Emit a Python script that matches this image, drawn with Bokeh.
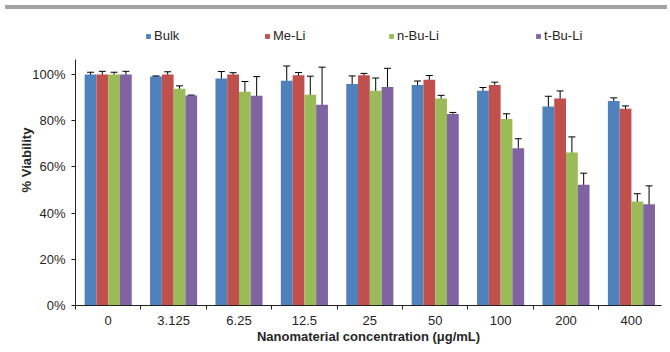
from bokeh.plotting import figure
from bokeh.models import (ColumnDataSource, Range1d, FixedTicker, PrintfTickFormatter,
                          Whisker, TeeHead, Legend, LegendItem, Div)
from bokeh.layouts import column
from bokeh.embed import file_html
from bokeh.resources import INLINE

# ---- data ----
concentrations = ["0", "3.125", "6.25", "12.5", "25", "50", "100", "200", "400"]
series_names = ["Bulk", "Me-Li", "n-Bu-Li", "t-Bu-Li"]
bulk = [100, 99.2, 98.3, 97.3, 95.9, 95.5, 93.0, 86.2, 88.5]
bulk_err = [1.0, 0.2, 3.0, 6.4, 3.5, 1.7, 1.4, 4.4, 1.4]
me_li = [100, 100, 100, 99.7, 99.7, 97.7, 95.5, 89.6, 85.2]
me_li_err = [1.4, 1.2, 0.8, 1.2, 0.8, 1.9, 1.2, 3.3, 1.2]
n_bu_li = [100, 93.8, 92.5, 91.2, 93.0, 89.6, 80.8, 66.2, 45.0]
n_bu_li_err = [1.0, 1.3, 4.5, 8.1, 5.5, 1.4, 2.2, 6.8, 3.4]
t_bu_li = [100, 90.9, 90.8, 86.9, 94.6, 82.9, 68.1, 52.3, 43.8]
t_bu_li_err = [1.4, 0.2, 8.3, 16.3, 8.1, 0.7, 4.1, 5.0, 8.0]
y_ticks = [0, 20, 40, 60, 80, 100]

values = [bulk, me_li, n_bu_li, t_bu_li]
errors = [bulk_err, me_li_err, n_bu_li_err, t_bu_li_err]
colors = ["#4F81BD", "#C0504D", "#9BBB59", "#8064A2"]

FONT = "Liberation Sans"
TXT = "#262626"

p = figure(width=662, height=332, output_backend="svg", toolbar_location=None, title=None,
           x_range=Range1d(0, 8.96), y_range=Range1d(0, 126.0),
           min_border_left=75, min_border_right=1, min_border_top=0, min_border_bottom=37)
p.outline_line_color = None
p.grid.visible = False
p.background_fill_color = "white"

bw = 0.18
legend_x = [70, 189, 313, 460]
for k, (name, vals, errs, col) in enumerate(zip(series_names, values, errors, colors)):
    xs = [i + 0.5 + (k - 1.5) * bw for i in range(len(concentrations))]
    src = ColumnDataSource(dict(x=xs, top=vals,
                                upper=[v + e for v, e in zip(vals, errs)],
                                lower=[v - e for v, e in zip(vals, errs)]))
    r = p.vbar(x="x", top="top", width=bw, source=src, fill_color=col, line_color=None)
    w = Whisker(base="x", upper="upper", lower="lower", source=src, line_color="black", line_width=1,
                upper_head=TeeHead(size=7, line_color="black", line_width=1),
                lower_head=TeeHead(size=7, line_color="black", line_width=1))
    p.add_layout(w)
    lg = Legend(items=[LegendItem(label=name, renderers=[r])], location=(legend_x[k], 262),
                orientation="horizontal", padding=0, margin=0, spacing=0,
                glyph_width=6, glyph_height=6, label_standoff=3, label_height=6,
                label_text_font=FONT, label_text_font_size="13px", label_text_color=TXT,
                border_line_color=None, background_fill_alpha=0)
    p.add_layout(lg, "center")

# y axis
ya = p.yaxis[0]
ya.ticker = FixedTicker(ticks=y_ticks)
ya.formatter = PrintfTickFormatter(format="%d%%")
ya.bounds = (0, 106.7)
ya.major_tick_in = 0
ya.major_tick_out = 4
ya.minor_tick_line_color = None
ya.major_label_standoff = 6
ya.axis_label = "% Viability"
ya.axis_label_standoff = -5
ya.axis_label_text_font = FONT
ya.axis_label_text_font_size = "13px"
ya.axis_label_text_font_style = "bold"
ya.axis_label_text_color = TXT
ya.major_label_text_font = FONT
ya.major_label_text_font_size = "13px"
ya.major_label_text_color = TXT
ya.axis_line_color = "#222222"
ya.major_tick_line_color = "#222222"

# x axis
xa = p.xaxis[0]
centers = [i + 0.5 for i in range(len(concentrations))]
xa.ticker = FixedTicker(ticks=centers, minor_ticks=list(range(0, len(concentrations))))
xa.major_label_overrides = {c: lab for c, lab in zip(centers, concentrations)}
xa.major_tick_line_color = None
xa.major_tick_in = 0
xa.major_tick_out = 0
xa.minor_tick_in = 0
xa.minor_tick_out = 4
xa.minor_tick_line_color = "#222222"
xa.axis_line_color = "#222222"
xa.major_label_standoff = 6
xa.major_label_text_font = FONT
xa.major_label_text_font_size = "13px"
xa.major_label_text_color = TXT
xa.axis_label = "Nanomaterial concentration (\u03bcg/mL)"
xa.axis_label_standoff = 1
xa.axis_label_text_font = FONT
xa.axis_label_text_font_size = "13px"
xa.axis_label_text_font_style = "bold"
xa.axis_label_text_color = TXT

band = Div(text="", width=662, height=4, styles={"background-color": "#a3a3a3"})
layout = column(band, p, spacing=0)

open("out.html", "w").write(file_html(layout, INLINE))
